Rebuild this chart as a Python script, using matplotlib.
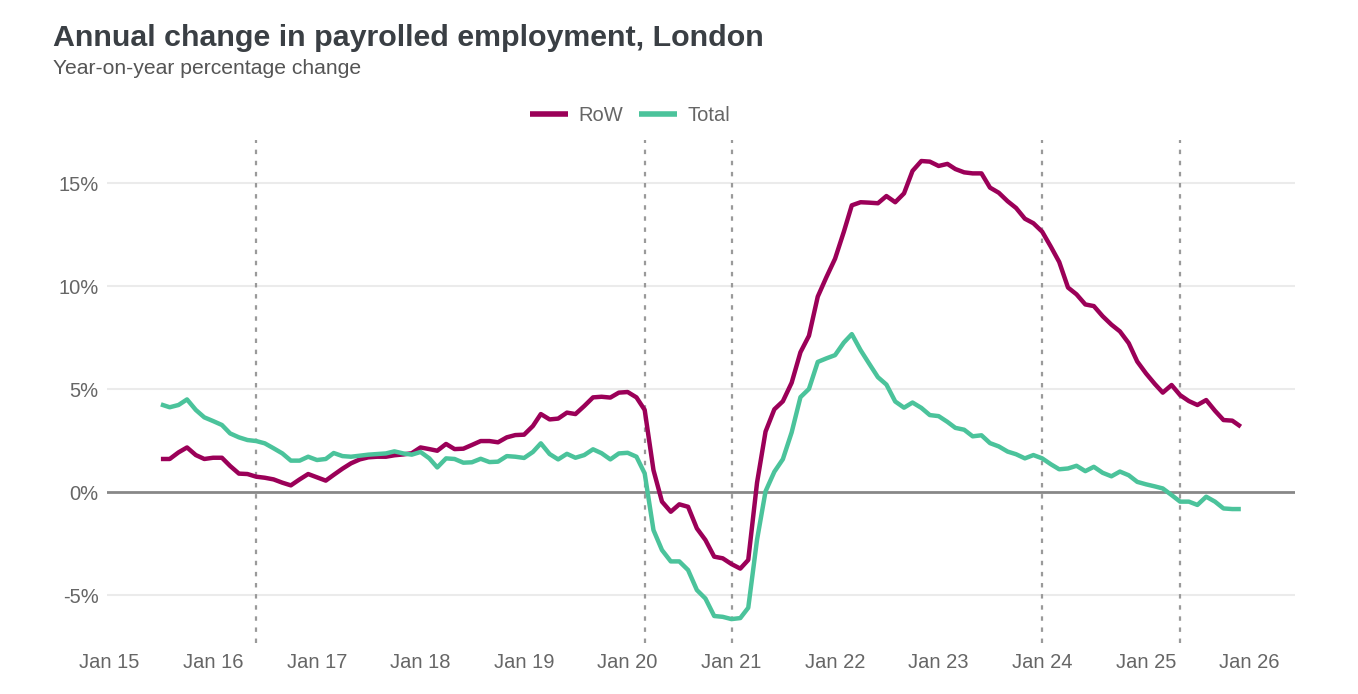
import numpy as np
import pandas as pd
import matplotlib
matplotlib.use("Agg")
import matplotlib.pyplot as plt
import matplotlib.dates as mdates

# Données (variation annuelle en %), mensuel juil. 2015 - déc. 2025
months = pd.date_range("2015-07-01", "2025-12-01", freq="MS")

row = [
    1.62, 1.62, 1.94, 2.18, 1.81, 1.62,                       # 2015 H2
    1.68, 1.68, 1.28, 0.91, 0.89, 0.76, 0.71, 0.63, 0.47, 0.34, 0.63, 0.89,   # 2016
    0.73, 0.57, 0.85, 1.15, 1.41, 1.60, 1.70, 1.73, 1.73, 1.80, 1.84, 1.90,   # 2017
    2.18, 2.10, 2.02, 2.35, 2.10, 2.12, 2.30, 2.49, 2.49, 2.43, 2.67, 2.78,   # 2018
    2.80, 3.22, 3.80, 3.54, 3.58, 3.87, 3.80, 4.19, 4.61, 4.64, 4.60, 4.84,   # 2019
    4.87, 4.61, 4.00, 1.08, -0.45, -0.94, -0.58, -0.70, -1.75, -2.31, -3.12, -3.20,  # 2020
    -3.48, -3.70, -3.28, 0.47, 2.95, 4.03, 4.42, 5.32, 6.80, 7.60, 9.50, 10.43,  # 2021
    11.34, 12.65, 13.93, 14.08, 14.06, 14.03, 14.38, 14.08, 14.51, 15.60, 16.08, 16.05,  # 2022
    15.84, 15.94, 15.69, 15.53, 15.48, 15.48, 14.79, 14.54, 14.13, 13.80, 13.28, 13.06,  # 2023
    12.65, 11.91, 11.18, 9.94, 9.61, 9.12, 9.04, 8.55, 8.14, 7.81, 7.24, 6.35,  # 2024
    5.77, 5.26, 4.84, 5.21, 4.72, 4.43, 4.24, 4.48, 3.96, 3.51, 3.48, 3.19,     # 2025
]

total = [
    4.27, 4.13, 4.24, 4.51, 4.00, 3.64,
    3.46, 3.27, 2.86, 2.67, 2.54, 2.49, 2.38, 2.14, 1.89, 1.54, 1.54, 1.73,
    1.57, 1.62, 1.91, 1.76, 1.73, 1.78, 1.83, 1.86, 1.89, 1.99, 1.89, 1.83,
    1.96, 1.65, 1.21, 1.65, 1.62, 1.44, 1.46, 1.63, 1.47, 1.49, 1.76, 1.73,
    1.67, 1.96, 2.38, 1.86, 1.60, 1.87, 1.68, 1.81, 2.09, 1.90, 1.60, 1.89,
    1.92, 1.73, 0.92, -1.83, -2.80, -3.35, -3.35, -3.77, -4.74, -5.15, -6.00, -6.04,
    -6.15, -6.10, -5.60, -2.30, 0.05, 1.00, 1.61, 2.91, 4.62, 5.02, 6.33, 6.50,
    6.66, 7.27, 7.68, 6.90, 6.25, 5.59, 5.23, 4.41, 4.11, 4.36, 4.10, 3.75,
    3.70, 3.42, 3.13, 3.04, 2.72, 2.77, 2.39, 2.23, 1.98, 1.85, 1.65, 1.81,
    1.65, 1.36, 1.12, 1.16, 1.29, 1.03, 1.24, 0.95, 0.78, 1.01, 0.83, 0.51,
    0.39, 0.29, 0.19, -0.13, -0.45, -0.45, -0.61, -0.21, -0.45, -0.78, -0.81, -0.81,
]

# Lignes verticales pointillées (événements)
event_dates = pd.to_datetime(["2016-06-01", "2020-03-01", "2021-01-01",
                              "2024-01-01", "2025-05-01"])

yticks = [-5, 0, 5, 10, 15]
xticks = pd.date_range("2015-01-01", "2026-01-01", freq="YS")

col_row = "#9b0058"
col_total = "#4bc39b"
txt_grey = "#666666"

plt.rcParams["font.family"] = ["Liberation Sans", "DejaVu Sans"]

fig = plt.figure(figsize=(13.58, 6.94), dpi=100)
W, H = 1358, 694
ax = fig.add_axes([107 / W, 1 - 643 / H, (1295 - 107) / W, (643 - 140) / H])

for y in yticks:
    if y == 0:
        ax.axhline(0, color="#888888", lw=2.0, zorder=2)
    else:
        ax.axhline(y, color="#ebebeb", lw=1.5, zorder=1)

for d in event_dates:
    ax.axvline(d, color="#9a9a9a", lw=1.6, ls=(0, (2, 3)), zorder=1)

ax.plot(months, row, color=col_row, lw=3.2, label="RoW", zorder=3,
        solid_joinstyle="round", solid_capstyle="butt")
ax.plot(months, total, color=col_total, lw=3.2, label="Total", zorder=3,
        solid_joinstyle="round", solid_capstyle="butt")

ax.set_xlim(pd.Timestamp("2014-12-23"), pd.Timestamp("2026-06-10"))
ax.set_ylim(-7.31, 17.1)

ax.set_yticks(yticks)
ax.set_yticklabels([f"{v}%" for v in yticks])
ax.set_xticks(xticks)
ax.xaxis.set_major_formatter(mdates.DateFormatter("%b %y"))

ax.tick_params(axis="both", length=0, labelsize=14.5, colors=txt_grey)
ax.tick_params(axis="y", pad=6)
ax.tick_params(axis="x", pad=7)
for s in ax.spines.values():
    s.set_visible(False)

leg = fig.legend(loc="center", bbox_to_anchor=(0.464, 1 - 115.5 / H), ncol=2,
                 frameon=False, fontsize=14.5, handlelength=1.9,
                 handletextpad=0.5, columnspacing=0.8)
for t in leg.get_texts():
    t.set_color(txt_grey)
for h in leg.get_lines():
    h.set_linewidth(4)

fig.text(53 / W, 1 - 46 / H, "Annual change in payrolled employment, London",
         fontsize=21.9, fontweight="bold", color="#3a3f44", va="baseline")
fig.text(53 / W, 1 - 73.5 / H, "Year-on-year percentage change",
         fontsize=15.2, color="#555555", va="baseline")

fig.savefig("out.png", dpi=100, facecolor="white")
